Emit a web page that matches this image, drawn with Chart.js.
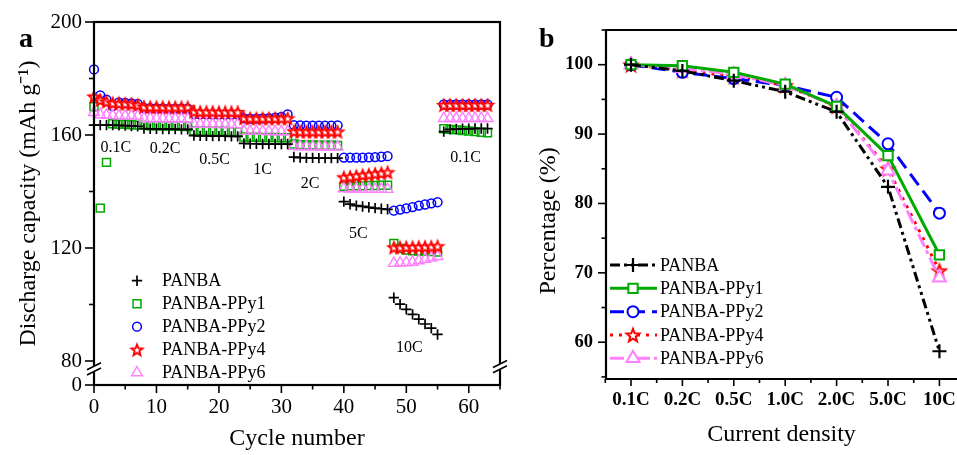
<!DOCTYPE html>
<html><head><meta charset="utf-8">
<script src="https://cdn.jsdelivr.net/npm/chart.js@4.4.1/dist/chart.umd.min.js"></script>
<style>
html,body{margin:0;padding:0;background:#fff;}
body{width:957px;height:455px;overflow:hidden;position:relative;font-family:"Liberation Serif",serif;}
.box{position:absolute;top:0;height:455px;}
#ba{left:0;width:520px;}
#bb{left:520px;width:437px;}
.plab{position:absolute;font:bold 28px "Liberation Serif";line-height:1;color:#000;}
</style></head><body>
<div class="box" id="ba"><canvas id="ca" width="520" height="455"></canvas></div>
<div class="box" id="bb"><canvas id="cb" width="437" height="455"></canvas></div>
<div class="plab" style="left:19px;top:24px">a</div>
<div class="plab" style="left:539px;top:24px">b</div>
<script>
// ---------------- DATA : panel a (rate capability vs cycle) ----------------
const cycles = [0,1,2,3,4,5,6,7,8,9,10,11,12,13,14,15,16,17,18,19,20,21,22,23,24,25,26,27,28,29,30,31,
                32,33,34,35,36,37,38,39,40,41,42,43,44,45,46,47,48,49,50,51,52,53,54,55,56,57,58,59,60,61,62,63];
const seriesNames = ['PANBA','PANBA-PPy1','PANBA-PPy2','PANBA-PPy4','PANBA-PPy6'];
const capPANBA = [163.5,163.5,163.5,163.5,163.4,163.3,163.2,163.1,
  162.3,162.2,162.2,162.1,162.1,162.1,162.0,162.0,
  159.8,159.7,159.7,159.6,159.6,159.6,159.5,159.5,
  157.0,156.9,156.9,156.8,156.8,156.8,156.8,156.8,
  152.2,152.0,151.9,151.9,151.8,151.8,151.8,151.8,
  136.4,135.5,135.0,134.7,134.4,134.1,133.9,133.7,
  102.4,100.1,98.3,96.5,94.8,93.1,91.6,89.4,
  161.2,162.0,162.1,162.2,162.2,162.3,162.3,162.3];
const capPPy1 = [170.0,134.1,150.3,164.0,163.8,163.8,163.6,163.5,
  163.4,163.3,163.3,163.2,163.2,163.1,163.1,163.0,
  161.5,161.4,161.4,161.3,161.3,161.3,161.2,161.2,
  159.3,159.2,159.2,159.1,159.1,159.1,159.0,159.0,
  156.8,156.6,156.5,156.5,156.4,156.4,156.4,156.3,
  141.8,142.0,142.0,142.0,142.1,142.1,142.2,142.2,
  121.6,119.8,119.3,119.0,118.9,118.8,118.7,118.6,
  162.2,162.0,161.8,161.6,161.4,161.2,161.0,160.8];
const capPPy2 = [183.2,174.0,172.5,170.2,171.5,171.4,171.2,171.0,
  169.6,169.5,169.4,169.4,169.3,169.3,169.3,169.3,
  167.4,167.3,167.3,167.2,167.2,167.2,167.2,167.3,
  165.9,165.8,165.8,165.9,166.0,166.1,166.4,167.3,
  163.5,163.4,163.3,163.3,163.3,163.3,163.3,163.4,
  152.0,152.0,152.0,152.0,152.1,152.2,152.3,152.5,
  133.2,133.6,134.0,134.5,135.0,135.4,135.8,136.2,
  170.8,170.8,170.8,170.8,170.8,170.8,170.8,170.8];
const capPPy4 = [173.6,172.4,171.8,171.3,171.2,171.1,171.0,170.6,
  170.0,169.9,169.9,169.9,169.8,169.8,169.8,169.8,
  168.3,168.2,168.2,168.2,168.1,168.1,168.1,168.1,
  166.0,165.9,165.9,165.9,165.9,165.9,165.9,165.9,
  161.3,161.2,161.2,161.2,161.2,161.2,161.2,161.2,
  145.0,145.2,145.5,145.8,146.0,146.3,146.5,146.8,
  120.2,120.2,120.3,120.3,120.4,120.4,120.5,120.6,
  170.6,170.6,170.6,170.6,170.6,170.6,170.6,170.6];
const capPPy6 = [168.0,167.2,167.0,166.9,166.8,166.8,166.8,166.7,
  165.9,165.8,165.8,165.8,165.7,165.7,165.7,165.7,
  163.9,163.8,163.8,163.8,163.7,163.7,163.7,163.7,
  161.4,161.3,161.3,161.3,161.2,161.2,161.2,161.2,
  156.0,155.9,155.9,155.8,155.8,155.8,155.8,155.8,
  141.0,140.9,140.9,140.8,140.8,140.8,140.8,140.8,
  114.6,114.7,114.8,115.0,115.5,116.0,116.5,117.0,
  165.9,165.9,165.9,165.9,165.9,165.9,165.9,165.9];
const xTicksA = [0,10,20,30,40,50,60];
const xMinorA = [5,15,25,35,45,55,65];
const yTicksA = [71.5,80,120,160,200];          // 71.5 sits on the broken-axis "0"
const yTickLabelsA = ['0','80','120','160','200'];
const yMinorA = [100,140,180];
const rateNotesA = ['0.1C','0.2C','0.5C','1C','2C','5C','10C','0.1C'];

// ---------------- DATA : panel b (retention vs current density) ----------------
const rates = ['0.1C','0.2C','0.5C','1.0C','2.0C','5.0C','10C'];
const pctPANBA = [100, 99.1, 97.7, 96.1, 93.2, 82.4, 58.7];
const pctPPy1  = [100, 99.85, 98.9, 97.2, 94.0, 86.9, 72.6];
const pctPPy2  = [100, 98.9, 98.0, 97.0, 95.3, 88.6, 78.6];
const pctPPy4  = [100, 99.2, 98.3, 97.0, 94.0, 85.0, 70.3];
const pctPPy6  = [100, 99.5, 98.6, 97.0, 94.0, 84.7, 69.3];
const yTicksB = [60,70,80,90,100];
const yMinorB = [55,65,75,85,95,105];

// ---------------- styling / layout ----------------
const FONT = 'Liberation Serif';
const colors = ['#000000','#00aa00','#0000ff','#ff0000','#ff80ff'];

function makeStar(size, ro, ri, lw, stroke, fill){
  const c = document.createElement('canvas'); c.width = c.height = size;
  const g = c.getContext('2d');
  g.translate(size/2, size/2 + ro*0.1);
  g.beginPath();
  for (let i=0;i<10;i++){ const r = i%2 ? ri : ro; const an = -Math.PI/2 + i*Math.PI/5; g.lineTo(r*Math.cos(an), r*Math.sin(an)); }
  g.closePath(); g.fillStyle = fill; g.fill(); g.lineWidth = lw; g.strokeStyle = stroke; g.lineJoin='miter'; g.stroke();
  return c;
}
const starA = makeStar(16, 5.8, 2.5, 1.9, '#ff0000', '#ffffff');
const starB = makeStar(18, 6.8, 2.9, 2.0, '#ff0000', '#ffffff');

const styleA = [
  {pointStyle:'cross', radius:5.2, borderWidth:1.7, order:0},
  {pointStyle:'rect', radius:5.6, borderWidth:1.5, order:4},
  {pointStyle:'circle', radius:4.4, borderWidth:1.5, order:3},
  {pointStyle:starA, radius:6, borderWidth:1.5, order:1},
  {pointStyle:'triangle', radius:6.2, borderWidth:1.4, order:2}
];
const styleB = [
  {pointStyle:'cross', radius:7, borderWidth:2.2, dash:[10,4,3,4,3,4], order:0},
  {pointStyle:'rect', radius:6.6, borderWidth:2, dash:[], order:1},
  {pointStyle:'circle', radius:5.5, borderWidth:2, dash:[14,7], order:3},
  {pointStyle:starB, radius:7, borderWidth:2, dash:[3,6], order:4},
  {pointStyle:'triangle', radius:7.5, borderWidth:2, dash:[14,4,4,4], order:2}
];
const notePos = [[3.5,155.3],[11.4,155.0],[19.3,151.1],[27.0,147.6],[34.6,142.9],[42.3,125.2],[50.5,84.5],[59.5,152.1]];

function drawMarker(ctx, st, color, bg, x, y){
  ctx.save();
  ctx.strokeStyle = color; ctx.fillStyle = bg; ctx.lineWidth = st.borderWidth; ctx.setLineDash([]);
  Chart.helpers.drawPoint(ctx, {pointStyle:st.pointStyle, radius:st.radius, borderWidth:st.borderWidth, rotation:0}, x, y);
  ctx.restore();
}
function tickMarks(ctx, scale, vals, len, side, a){
  vals.forEach(v=>{
    const p = scale.getPixelForValue(v);
    ctx.beginPath();
    if (side==='b'){ ctx.moveTo(p, a.bottom); ctx.lineTo(p, a.bottom+len); }
    else { ctx.moveTo(a.left, p); ctx.lineTo(a.left-len, p); }
    ctx.stroke();
  });
}
function brk(ctx, xc, yc){
  ctx.save();
  ctx.fillStyle = '#fff'; ctx.fillRect(xc-3, yc-2.5, 6, 5);
  ctx.strokeStyle = '#000'; ctx.lineWidth = 1.6;
  [-2.6, 2.6].forEach(d=>{ ctx.beginPath(); ctx.moveTo(xc-7, yc+d+3.5); ctx.lineTo(xc+7, yc+d-3.5); ctx.stroke(); });
  ctx.restore();
}
function noPad(s){ s.paddingLeft = 0; s.paddingRight = 0; s.paddingTop = 0; s.paddingBottom = 0; }

const seriesA = [capPANBA, capPPy1, capPPy2, capPPy4, capPPy6];
const seriesB = [pctPANBA, pctPPy1, pctPPy2, pctPPy4, pctPPy6];

const plugA = {
  id:'decoA',
  afterDatasetsDraw(chart){
    const {ctx, chartArea:a, scales:{x, y}} = chart;
    ctx.save();
    ctx.strokeStyle = '#000'; ctx.lineWidth = 1.6;
    tickMarks(ctx, x, xTicksA, 8, 'b', a);
    tickMarks(ctx, x, xMinorA, 4.5, 'b', a);
    tickMarks(ctx, y, yTicksA, 9, 'l', a);
    tickMarks(ctx, y, yMinorA, 5, 'l', a);
    ctx.lineWidth = 2.2;
    ctx.strokeRect(a.left, a.top, a.right-a.left, a.bottom-a.top);
    brk(ctx, a.left, y.getPixelForValue(77.2));
    brk(ctx, a.right, y.getPixelForValue(78));
    ctx.fillStyle = '#000'; ctx.textAlign = 'center'; ctx.textBaseline = 'middle';
    ctx.font = '16px "' + FONT + '"';
    rateNotesA.forEach((t,i)=> ctx.fillText(t, x.getPixelForValue(notePos[i][0]), y.getPixelForValue(notePos[i][1])));
    ctx.font = '18px "' + FONT + '"'; ctx.textAlign = 'left';
    seriesNames.forEach((n,i)=>{
      const yy = 280.7 + 23*i;
      drawMarker(ctx, styleA[i], colors[i], 'rgba(0,0,0,0)', 137, yy);
      ctx.fillStyle = '#000'; ctx.fillText(n, 162, yy+1);
    });
    ctx.restore();
  }
};

const plugB = {
  id:'decoB',
  afterDatasetsDraw(chart){
    const {ctx, chartArea:a, scales:{x, y}} = chart;
    ctx.save();
    ctx.strokeStyle = '#000'; ctx.lineWidth = 1.6;
    tickMarks(ctx, x, [0,1,2,3,4,5,6], 7, 'b', a);
    tickMarks(ctx, x, [-0.5,0.5,1.5,2.5,3.5,4.5,5.5], 4, 'b', a);
    tickMarks(ctx, y, yTicksB, 8, 'l', a);
    tickMarks(ctx, y, yMinorB, 4.5, 'l', a);
    ctx.lineWidth = 2.2;
    ctx.beginPath();
    ctx.moveTo(chart.width+2, a.top); ctx.lineTo(a.left, a.top); ctx.lineTo(a.left, a.bottom); ctx.lineTo(chart.width+2, a.bottom);
    ctx.stroke();
    // legend
    ctx.font = '18px "' + FONT + '"'; ctx.textAlign = 'left'; ctx.textBaseline = 'middle';
    const rows = [265, 288.3, 311.7, 335, 358.3];
    seriesNames.forEach((n,i)=>{
      const yy = rows[i];
      ctx.save();
      ctx.strokeStyle = colors[i]; ctx.lineWidth = 3; ctx.setLineDash(styleB[i].dash);
      ctx.beginPath(); ctx.moveTo(90, yy); ctx.lineTo(137, yy); ctx.stroke();
      ctx.restore();
      drawMarker(ctx, styleB[i], colors[i], '#ffffff', 113, yy);
      ctx.fillStyle = '#000'; ctx.fillText(n, 140, yy+1);
    });
    // y title
    ctx.save();
    ctx.translate(28.5, 221); ctx.rotate(-Math.PI/2);
    ctx.textAlign = 'center'; ctx.font = '24px "' + FONT + '"'; ctx.fillStyle = '#000';
    ctx.fillText('Percentage (%)', 0, 0);
    ctx.restore();
    ctx.restore();
  }
};

Chart.defaults.font.family = FONT;
Chart.defaults.color = '#000';

new Chart(document.getElementById('ca'), {
  type:'scatter',
  data:{ datasets: seriesA.map((vals,i)=>({
    label: seriesNames[i],
    data: vals.map((v,k)=>({x:cycles[k], y:v})),
    showLine:false,
    pointStyle: styleA[i].pointStyle,
    pointRadius: styleA[i].radius,
    pointBorderWidth: styleA[i].borderWidth,
    pointBorderColor: colors[i],
    pointBackgroundColor: 'rgba(0,0,0,0)',
    borderColor: colors[i],
    order: styleA[i].order,
    clip: false
  }))},
  options:{
    responsive:false, animation:false, devicePixelRatio:1,
    layout:{autoPadding:false, padding:{top:22, right:20, left:0, bottom:0}},
    plugins:{legend:{display:false}, tooltip:{enabled:false}},
    events:[],
    scales:{
      x:{type:'linear', min:0, max:65,
        afterBuildTicks:s=>{ s.ticks = xTicksA.map(v=>({value:v})); },
        afterFit:s=>{ s.height = 70; noPad(s); },
        grid:{display:true, drawOnChartArea:false, drawTicks:true, tickLength:8, color:'rgba(0,0,0,0)'},
        border:{display:false},
        ticks:{font:{family:FONT, size:21}, color:'#000', padding:2, maxRotation:0, autoSkip:false},
        title:{display:true, text:'Cycle number', font:{family:FONT, size:24}, color:'#000', padding:{top:0, bottom:2}}
      },
      y:{type:'linear', min:71.5, max:200,
        afterBuildTicks:s=>{ s.ticks = yTicksA.map(v=>({value:v})); },
        afterFit:s=>{ s.width = 94; noPad(s); },
        grid:{display:true, drawOnChartArea:false, drawTicks:true, tickLength:9, color:'rgba(0,0,0,0)'},
        border:{display:false},
        ticks:{font:{family:FONT, size:21}, color:'#000', padding:3, autoSkip:false,
          callback:(v)=>{ const k = yTicksA.indexOf(v); return k>=0 ? yTickLabelsA[k] : ''; }},
        title:{display:true, text:'Discharge capacity (mAh g\u207B\u00B9)', font:{family:FONT, size:24}, color:'#000', padding:{top:14, bottom:0}}
      }
    }
  },
  plugins:[plugA]
});

new Chart(document.getElementById('cb'), {
  type:'line',
  data:{ datasets: seriesB.map((vals,i)=>({
    label: seriesNames[i],
    data: vals.map((v,k)=>({x:k, y:v})),
    borderColor: colors[i],
    borderWidth: 3,
    borderDash: styleB[i].dash,
    tension: 0,
    pointStyle: styleB[i].pointStyle,
    pointRadius: styleB[i].radius,
    pointBorderWidth: styleB[i].borderWidth,
    pointBorderColor: colors[i],
    pointBackgroundColor: '#ffffff',
    order: styleB[i].order,
    clip: false
  }))},
  options:{
    responsive:false, animation:false, devicePixelRatio:1,
    layout:{autoPadding:false, padding:{top:30, right:0, left:0, bottom:0}},
    plugins:{legend:{display:false}, tooltip:{enabled:false}},
    events:[],
    scales:{
      x:{type:'linear', min:-0.486, max:6.342,
        afterBuildTicks:s=>{ s.ticks = rates.map((r,k)=>({value:k})); },
        afterFit:s=>{ s.height = 76; noPad(s); },
        grid:{display:true, drawOnChartArea:false, drawTicks:true, tickLength:7, color:'rgba(0,0,0,0)'},
        border:{display:false},
        ticks:{font:{family:FONT, size:19, weight:'bold'}, color:'#000', padding:3, maxRotation:0, autoSkip:false,
          callback:(v)=> rates[v] !== undefined ? rates[v] : ''},
        title:{display:true, text:'Current density', font:{family:FONT, size:24}, color:'#000', padding:{top:0, bottom:6}}
      },
      y:{type:'linear', min:54.7, max:105,
        afterBuildTicks:s=>{ s.ticks = yTicksB.map(v=>({value:v})); },
        afterFit:s=>{ s.width = 86; noPad(s); },
        grid:{display:true, drawOnChartArea:false, drawTicks:true, tickLength:8, color:'rgba(0,0,0,0)'},
        border:{display:false},
        ticks:{font:{family:FONT, size:18.5, weight:'bold'}, color:'#000', padding:5, autoSkip:false},
        title:{display:false}
      }
    }
  },
  plugins:[plugB]
});
</script>
</body></html>
